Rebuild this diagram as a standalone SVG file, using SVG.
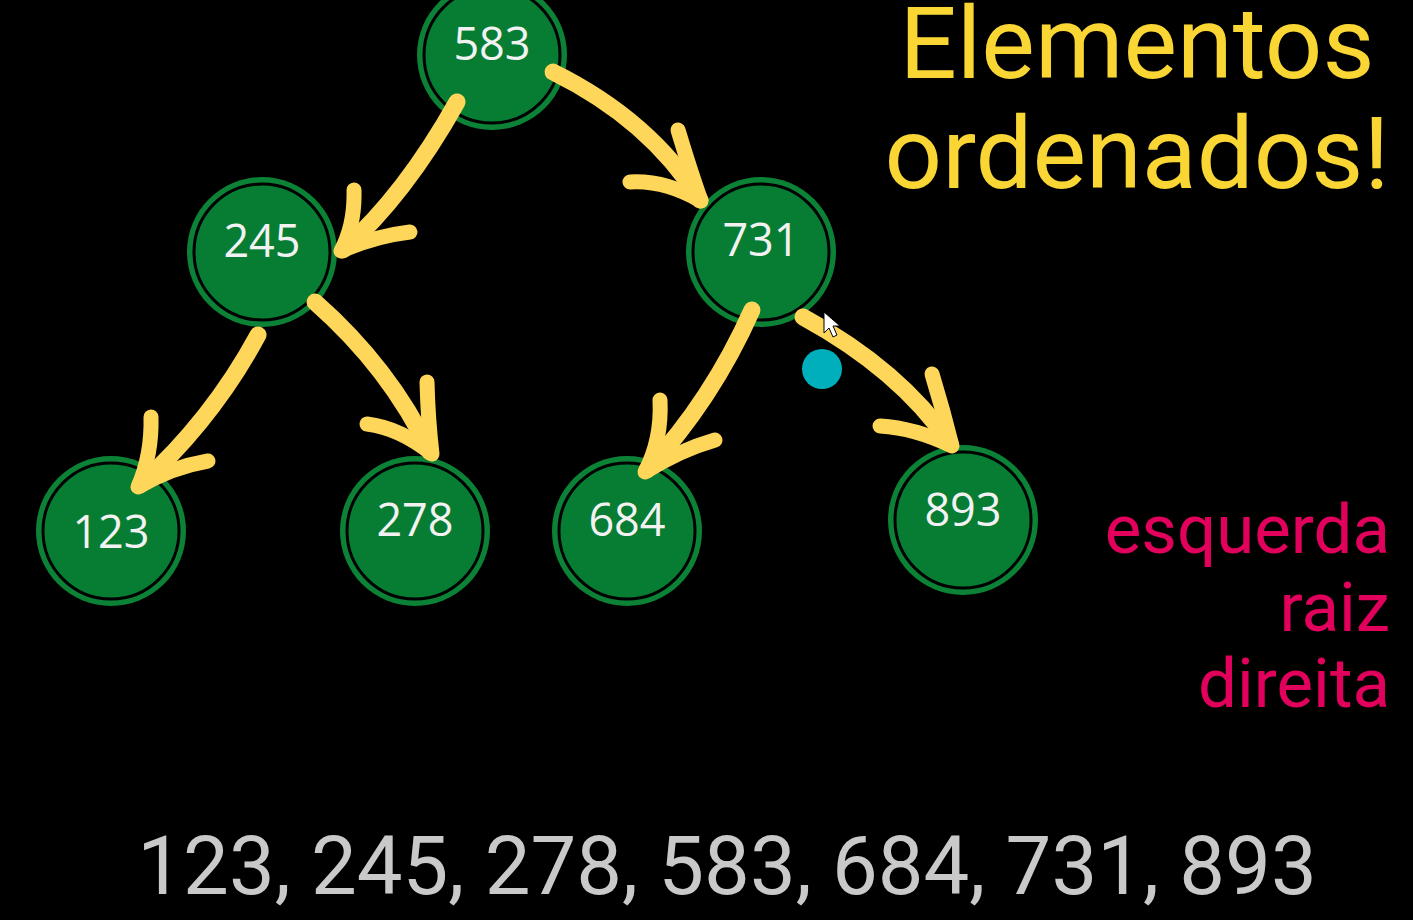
<svg xmlns="http://www.w3.org/2000/svg" width="1413" height="920" viewBox="0 0 1413 920">
<style>
.ring{fill:#0B8236;}
.inner{fill:#077D33;stroke:#000;stroke-width:3;}
.lbl{font-family:"Open Sans","Noto Sans",sans-serif;font-size:45px;fill:#F2F2F2;text-anchor:middle;}
.shaft{fill:none;stroke:#FDD65A;stroke-width:17;stroke-linecap:round;}
.barb{fill:none;stroke:#FDD65A;stroke-width:15;stroke-linecap:round;stroke-linejoin:round;}
.title{font-family:Roboto,"Liberation Sans",sans-serif;font-size:101px;fill:#F9D633;text-anchor:middle;}
.pink{font-family:Roboto,"Liberation Sans",sans-serif;font-size:69px;fill:#E1005B;text-anchor:end;}
.seq{font-family:Roboto,"Liberation Sans",sans-serif;font-size:81.5px;fill:#C9C9C9;text-anchor:middle;}
</style>
<rect width="1413" height="920" fill="#000"/>
<g id="n583"><circle class="ring" cx="492" cy="55" r="75"/><circle class="inner" cx="492" cy="55" r="68"/><text class="lbl" x="492" y="60">583</text></g>
<g id="n245"><circle class="ring" cx="262" cy="252" r="75"/><circle class="inner" cx="262" cy="252" r="68"/><text class="lbl" x="262" y="257">245</text></g>
<g id="n731"><circle class="ring" cx="761" cy="252" r="75"/><circle class="inner" cx="761" cy="252" r="68"/><text class="lbl" x="761" y="256">731</text></g>
<g id="n123"><circle class="ring" cx="111" cy="531" r="75"/><circle class="inner" cx="111" cy="531" r="68"/><text class="lbl" x="111" y="548">123</text></g>
<g id="n278"><circle class="ring" cx="415" cy="531" r="75"/><circle class="inner" cx="415" cy="531" r="68"/><text class="lbl" x="415" y="536">278</text></g>
<g id="n684"><circle class="ring" cx="627" cy="531" r="75"/><circle class="inner" cx="627" cy="531" r="68"/><text class="lbl" x="627" y="536">684</text></g>
<g id="n893"><circle class="ring" cx="963" cy="520" r="75"/><circle class="inner" cx="963" cy="520" r="68"/><text class="lbl" x="963" y="526">893</text></g>
<g id="connectors">
<path class="shaft" d="M457,102 Q405,195 343,250"/>
<path class="barb" d="M354,190 Q355,225 341,251 Q375,236 410,232"/>
<path class="shaft" d="M553,72 Q650,120 700,200"/>
<path class="barb" d="M678,130 Q690,170 701,201 Q665,180 630,182"/>
<path class="shaft" d="M258,335 Q212,420 140,485"/>
<path class="barb" d="M151,417 Q152,455 138,487 Q172,467 208,461"/>
<path class="shaft" d="M315,302 Q390,368 430,452"/>
<path class="barb" d="M427,382 Q428,420 432,454 Q400,428 367,424"/>
<path class="shaft" d="M752,310 Q712,400 647,470"/>
<path class="barb" d="M660,400 Q662,440 645,472 Q680,450 715,440"/>
<path class="shaft" d="M803,317 Q900,370 950,443"/>
<path class="barb" d="M932,374 Q943,410 952,446 Q915,428 880,426"/>
</g>
<circle cx="822" cy="369" r="20" fill="#00AFBC"/>
<path d="M824,312 L824,333 L829,328 L833,337 L837,335 L833,326 L840,326 Z" fill="#fff" stroke="#000" stroke-width="1"/>
<text class="title" x="1137" y="78">Elementos</text>
<text class="title" x="1137" y="188">ordenados!</text>
<text class="pink" x="1390" y="553">esquerda</text>
<text class="pink" x="1390" y="631">raiz</text>
<text class="pink" x="1390" y="707">direita</text>
<text class="seq" x="727" y="894">123, 245, 278, 583, 684, 731, 893</text>
</svg>
